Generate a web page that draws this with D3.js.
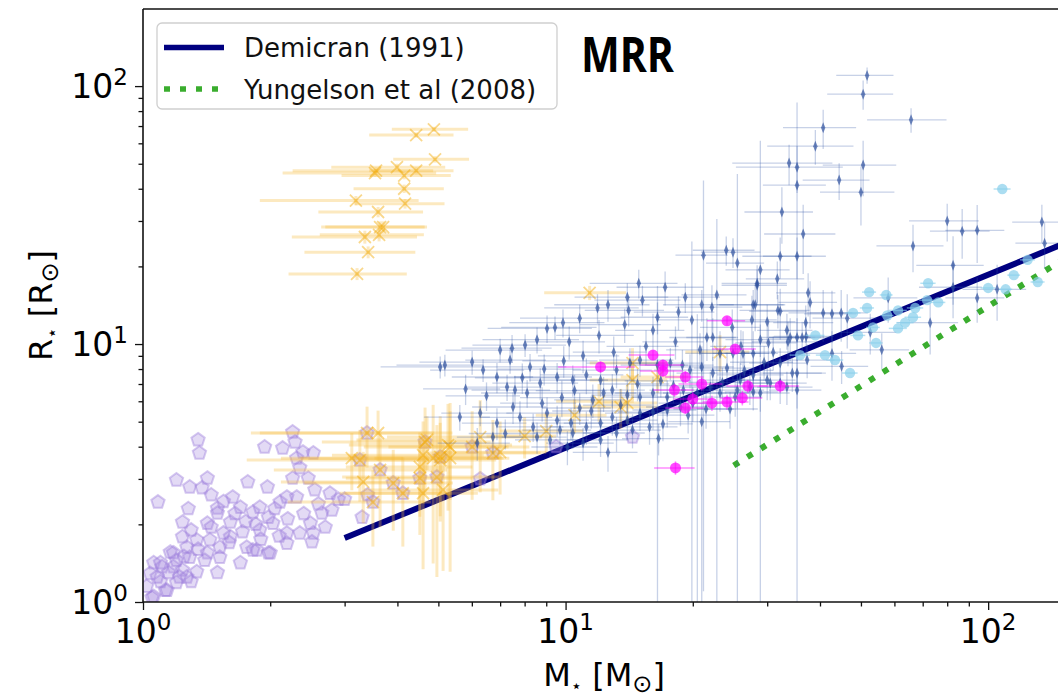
<!DOCTYPE html>
<html><head><meta charset="utf-8">
<script src="https://cdn.jsdelivr.net/npm/d3@7"></script>
<style>body{margin:0;background:#fff}svg{display:block}</style>
</head><body>
<svg id="chart" width="1058" height="700"></svg>
<script>
// ---------------- DATA ----------------
// purple pentagons: [M, R]
const purpleStars = [
[1.35,4.25],[1.36,3.78],[1.20,2.97],[1.29,2.79],[1.42,3.02],[1.085,2.44],[1.38,2.77],[1.77,2.92],
[1.94,3.99],[2.14,3.95],[2.26,4.56],[2.29,4.17],[2.31,3.61],[2.53,3.78],[2.39,3.81],[2.35,3.31],
[2.26,3.02],[2.46,3.02],[1.97,2.79],[2.55,2.72],[2.77,2.64],[1.63,2.55],[1.70,2.33],[1.50,2.31],
[1.82,2.23],[1.89,2.33],[1.98,2.13],[2.11,2.44],[2.31,2.55],[2.19,2.55],[2.65,2.21],[2.80,2.27],
[1.24,2.04],[1.42,2.02],[1.61,2.04],[1.72,1.87],[1.89,1.90],[2.03,2.02],[2.19,1.85],[2.35,1.85],
[2.49,2.02],[2.53,1.85],[2.51,1.71],[1.24,1.79],[1.34,1.74],[1.44,1.74],[1.52,1.63],[1.61,1.79],
[1.76,1.63],[1.86,1.59],[1.98,1.55],[1.27,1.63],[1.16,1.56],[1.29,1.49],[1.18,1.37],[1.24,1.33],
[1.34,1.31],[1.22,1.25],[1.06,1.42],[1.11,1.37],[1.04,1.29],[1.13,1.11],[1.06,1.05],[1.20,1.19],
[1.52,1.49],[1.70,1.42],[1.42,1.55],[1.50,2.21],[3.30,2.13],[1.10,1.42],[1.18,1.55],[1.27,1.25],
[1.14,1.11],[1.05,1.04],[1.82,1.59],[2.00,1.55],[2.19,1.69],[1.30,1.90],[1.45,1.95],[1.55,1.85],
[1.25,1.50],[1.40,1.45],[1.15,1.30],[1.20,1.45],[1.35,1.60],[1.60,1.70],[1.65,2.20],[1.75,2.05],
[1.85,2.00],[2.05,2.30],[2.20,2.10],[2.40,2.20],[1.10,1.20],[1.30,1.20],[1.50,1.30],[1.90,1.75],
[2.10,1.80],[2.60,2.40],[2.90,2.50],[2.70,1.95],[1.02,1.15],[1.08,1.25],[1.28,2.30],[1.45,2.60],
[1.55,2.45],[3.00,2.50],[3.40,2.60],
[3.39,4.52],[3.26,3.55],[3.64,3.25],[3.91,2.89],[4.52,3.02],[4.65,4.17],[5.05,3.65],[4.96,3.05],
[6.01,3.99],[6.73,3.78],[3.50,2.44],[4.12,2.64],[6.28,3.00],[14.4,4.36],[9.5,4.0]
];
// orange crosses: [M, R, dM, dR]
const orangeStars = [
[4.88,68,1.0,1.5],[4.43,64.6,1.0,1.5],[4.91,52,1.0,1.5],[3.56,47,1.3,1.5],[3.99,48.5,1.2,1.5],
[4.43,47,1.0,1.5],[4.15,45,1.2,1.5],[3.54,46,1.4,1.5],[4.15,40,1.0,1.5],[3.19,36,1.3,1.5],
[4.17,35,1.0,1.5],[3.60,32.5,1.0,1.5],[3.64,28.4,1.0,1.5],[3.70,28.4,1.0,1.5],[3.35,26,1.1,1.5],
[3.62,26.5,1.0,1.5],[3.41,22.7,1.0,1.2],[3.21,18.7,1.0,1.0],
[3.39,4.52,1.5,1.2],[3.60,4.52,1.8,1.0],[3.12,3.61,1.0,0.9],[3.26,3.55,1.5,1.1],[3.64,3.25,1.6,1.3],
[3.32,2.92,1.2,0.9],[3.91,2.89,1.5,1.0],[3.50,2.44,1.3,0.8],[4.12,2.64,1.2,1.0],[4.65,4.17,2.0,1.5],
[4.60,3.71,1.8,1.3],[4.86,3.61,2.5,2.2],[5.05,3.65,2.0,1.6],[5.27,4.06,2.2,1.8],[5.33,3.61,1.8,2.3],
[4.52,3.02,1.5,1.2],[4.96,3.05,2.0,1.8],[4.60,2.64,1.6,1.3],[5.13,2.72,1.8,1.4],[6.01,3.99,2.2,1.5],
[6.28,4.36,2.5,1.7],[6.73,3.78,2.0,1.3],[11.4,15.8,2.5,1.0],[7.0,3.81,2.0,1.2],[4.70,4.25,1.5,1.0],
[5.33,3.99,2.0,1.5],[13.5,5.70,3.0,1.0],[14.4,7.25,3.0,1.2],[16.5,7.45,3.0,1.0],[23.2,9.31,4.0,1.5],
[14.0,5.91,2.5,1.0],[14.4,8.44,3.0,1.2],[4.52,3.34,1.5,1.2],[5.05,3.55,1.8,1.4],
[9.0,4.6,2.0,0.8],[10.5,5.3,2.0,0.8],[12.0,6.0,2.5,1.0],[8.0,4.4,1.5,0.8]
];
// blue thin diamonds: [M, R, dM, dR]
const blueStars = [
[51.7,110,8,8],[50.6,93,9,12],[65.7,74,14,8],[40.7,69,8,12],[39.0,58.5,9,9],[33.8,50.3,9,9],
[35.3,48.5,10,10],[50.6,49.4,10,12],[44.4,43.2,8,7],[35.3,41.3,6,45],[50.0,38.8,10,10],[32.5,32.5,6,8],
[36.5,26.7,7,8],[80.0,30.0,15,5],[86.8,27.4,14,6],[94.2,27.6,15,7],[134,29.7,20,5],[136,24.6,20,5],
[66.4,24.0,12,5],[82.6,20.2,15,6],[21.2,22.1,3,21],[24.0,23.1,4,3],[24.9,22.7,4,3],[25.5,20.6,4,25],
[32.2,21.9,6,4],[35.3,21.9,6,4],[28.9,19.4,5,42],[28.4,17.2,5,3],[31.7,17.9,5,3],[22.8,15.5,4,15],
[22.2,13.9,4,3],[28.1,14.2,5,3],[32.2,13.4,5,3],[37.5,15.8,6,3],[37.9,14.5,6,3],[40.7,13.2,7,3],
[42.7,13.1,6,3],[44.9,13.2,7,3],[27.6,12.4,4,3],[24.8,11.6,4,2],[21.6,10.6,4,2],[22.3,10.6,3,2],
[30.2,10.1,5,2],[34.0,10.6,5,2],[35.3,10.6,5,2],[37.1,10.7,6,2],[37.0,12.1,6,2],[46.4,12.6,8,3],
[58.0,15.1,10,3],[72.9,12.1,12,3],[94.2,15.1,15,3],[105,16.3,18,4],[82.6,16.6,14,4],[52.6,11.1,8,2],
[42.7,9.2,6,2],[27.8,9.2,4,2],[24.9,9.2,4,2],[23.2,9.2,4,2],[26.3,9.2,4,2],
[5.05,8.15,1.4,0.8],[5.18,8.29,1.2,0.8],[6.01,8.51,1.5,0.9],[6.38,7.93,1.6,0.8],[7.0,9.48,1.8,1.0],
[7.47,9.64,1.8,1.2],[8.02,9.91,2.0,1.0],[8.56,10.4,2.2,1.2],[9.04,11.5,2.5,1.4],[9.44,11.6,2.4,1.2],
[9.86,12.1,2.5,1.5],[10.8,12.6,3.0,1.6],[11.9,13.8,3.0,1.8],[12.6,14.2,3.2,2.0],[14.0,15.2,3.5,2.0],
[14.9,17.2,3.5,2.2],[15.2,14.8,3.5,2.0],[17.2,16.6,4.0,2.5],[14.1,13.5,3.0,1.8],[16.5,12.7,3.0,1.8],
[18.5,13.3,4.0,2.0],[19.2,15.2,4.0,2.0],[21.0,14.2,4.0,2.0],[28.4,16.9,5,2.5],[27.8,14.2,5,2],
[31.8,13.5,6,2],[19.9,12.4,3.5,12.6],[30.0,12.2,5,2],[33.6,10.2,6,2],
[7.39,8.67,1.6,1.0],[8.24,8.15,1.8,1.0],[6.88,7.45,1.5,1.0],[7.27,6.81,1.5,0.8],[7.59,6.63,1.6,0.9],
[8.11,6.46,1.8,0.8],[8.71,7.06,2.0,1.0],[9.55,7.45,2.0,1.0],[10.4,7.25,2.2,1.0],[11.2,7.59,2.5,1.2],
[12.1,7.25,2.5,1.0],[13.2,7.93,2.8,1.2],[14.2,8.44,3.0,1.2],[15.0,8.67,3.0,1.2],[16.5,8.29,3.0,8.5],
[17.7,8.44,3.5,1.2],[18.9,8.29,3.5,1.2],[19.7,7.93,3.5,1.2],[21.0,8.15,4.0,1.2],[22.3,7.72,4.0,1.2],
[24.1,8.07,4.0,1.2],[25.9,7.25,4.5,1.2],[27.8,7.59,5,1.2],[30.0,7.25,5,1.2],[32.2,7.06,5,1.2],
[34.4,7.72,6,1.2],[5.62,5.21,1.0,0.6],[6.28,5.40,1.2,0.6],[6.88,4.94,1.2,0.7],[7.51,5.70,1.5,0.8],
[8.38,4.77,1.5,0.6],[9.04,5.40,1.8,0.8],[9.55,5.07,1.8,0.7],[10.3,4.94,2.0,0.7],[10.8,5.65,2.0,0.8],
[11.6,6.07,2.2,0.9],[12.3,6.46,2.4,1.0],[12.9,6.63,2.5,1.0],[14.0,6.34,2.5,0.9],[15.0,6.23,2.8,0.9],
[16.1,6.46,3.0,1.0],[17.4,6.23,3.0,1.0],[19.0,6.63,3.2,1.0],[20.5,6.46,3.5,6.6],[22.0,6.81,3.5,1.0],
[23.2,6.46,4,1.0],[25.5,6.63,4,1.0],[27.3,6.81,4,1.0],[28.9,6.46,5,1.0],[30.5,7.06,5,1.0],
[33.4,6.81,5,1.0],[35.3,6.63,5,1.0],[9.70,4.64,1.8,0.6],[10.4,4.52,2.0,0.6],[11.2,4.77,2.0,0.7],
[12.1,4.94,2.2,0.7],[12.9,5.21,2.4,0.8],[14.0,5.07,2.5,0.8],[15.0,5.40,2.6,0.8],[16.1,5.45,2.8,0.8],
[17.4,5.55,3.0,0.8],[18.7,5.70,3.2,0.9],[20.0,5.90,3.4,0.9],[8.56,4.36,1.5,0.6],[9.19,4.25,1.6,0.6],
[10.1,3.99,1.8,0.6],[11.0,4.13,2.0,0.6],[12.1,4.25,2.0,0.6],[13.2,4.52,2.2,0.7],[14.4,4.64,2.4,0.7],
[15.8,4.77,2.6,0.7],[6.73,4.36,1.2,0.6],[6.18,4.13,1.2,0.6],
[16.1,11.3,3,1.8],[28.9,10.4,5,1.5],[33.4,11.3,5,1.8],[36.3,10.6,6,1.6],[32.2,8.44,5,1.2],
[35.3,7.72,6,1.2],[37.3,8.67,6,1.3],[25.2,6.23,4,1.0],[27.8,6.52,4,1.0],[45,8.2,7,1.2],[56,9.5,9,1.5],
[7.8,5.2,1.5,0.8],[8.8,5.9,1.8,0.9],[9.8,6.2,2,1],[10.5,6.6,2,1],[11.5,5.5,2.2,0.8],[13.5,5.8,2.5,0.9],
[14.8,7.0,2.8,1],[16.8,7.2,3,1],[18.0,6.9,3,1],[19.5,5.3,3,0.8],[21.5,5.6,3.5,0.9],[23.5,7.1,4,1],
[26.5,7.9,4.5,1.2],[29.5,8.5,5,1.3],[31,9.3,5,1.4],[26,9.8,4,1.5],[20.8,9.5,3.5,1.5],[18.2,10.2,3,1.5],
[15.5,9.8,3,1.5],[13.0,9.3,2.6,1.4],[11.0,9.0,2.4,1.3],[9.9,8.6,2,1.2],[8.9,8.0,2,1.1],[7.9,7.4,1.8,1],
[12.0,10.8,2.5,1.6],[13.8,11.9,3,1.8],[10.2,10.2,2.2,1.5],[6.5,6.3,1.3,0.8],[5.8,6.7,1.2,0.9],
[7.2,4.5,1.3,0.6],[24.5,5.6,4,0.9],[17.0,4.9,3,0.7],[12.6,3.8,2.2,0.6],[16.6,4.3,3,0.6],[21,5.0,3.5,4.8]
];
// magenta circles: [M, R, dM, dR]
const magentaStars = [
[24.1,12.3,2.5,0.5],[25.2,9.56,3,0.4],[12.1,8.15,2.5,0.4],[16.1,9.06,2,0.4],[17.0,8.29,2,0.4],
[17.0,7.86,2,0.4],[19.2,7.45,2,0.4],[21.0,7.0,2.5,0.4],[18.1,6.63,2,0.4],[20.0,6.12,2,0.4],
[19.2,5.65,2,0.3],[22.2,5.90,2.5,0.4],[24.1,5.96,3,0.4],[26.2,6.18,3,0.4],[27.0,6.87,3,0.4],
[32.2,6.87,3.5,0.4],[18.2,3.31,2,0.2]
];
// light-blue circles: [M, R, dM]
const skyStars = [
[108,39.9,5],[52.3,15.9,2],[57.4,15.5,2],[72.1,17.2,3],[115,18.5,4],[131,17.4,5],[124,21.2,5],
[100,16.5,4],[110,16.3,4],[76.2,14.5,3],[71.7,14.8,3],[67.2,13.8,3],[66.4,12.7,3],[61.2,13.5,3],
[61.2,11.5,3],[63.6,12.1,3],[57.7,12.9,2],[53.4,11.6,2],[51.7,13.8,2],[47.9,13.2,2],[49.2,10.8,2],
[54.3,10.1,2],[39.0,10.8,2],[35.9,9.06,2],[41.1,9.06,2],[43.4,8.67,2],[47.1,7.72,2]
];
// model relations (end points)
const demircanM = [3, 152];
const demircanR = [1.77, 24.6];
const yungelsonM = [25, 152];
const yungelsonR = [3.38, 21.5];
const legendLabels = ["Demicran (1991)", "Yungelson et al (2008)"];
const xTickExps = [0, 1, 2];
const yTickExps = [0, 1, 2];

// ---------------- CHART ----------------
const svg = d3.select("#chart");
const L = 143, R = 1065, T = 9, B = 602;
const x = d3.scaleLog().domain([1, 152]).range([L, R]);
const y = d3.scaleLog().domain([1, 199]).range([B, T]);
const xmin = x.domain()[0], ymin = y.domain()[0];

svg.append("defs").append("clipPath").attr("id","plotclip")
  .append("rect").attr("x",L).attr("y",T).attr("width",R-L).attr("height",B-T);
const plot = svg.append("g").attr("clip-path","url(#plotclip)");

const lo = (v, d, m) => (v - d <= m ? m : v - d);

// model lines (drawn below the points)
const line = d3.line().x(d => x(d[0])).y(d => y(d[1]));
plot.append("path").datum(demircanM.map((m,i)=>[m, demircanR[i]]))
  .attr("d", line).attr("fill","none").attr("stroke","#000080").attr("stroke-width",6);
plot.append("path").datum(yungelsonM.map((m,i)=>[m, yungelsonR[i]]))
  .attr("d", line).attr("fill","none").attr("stroke","#3aad2e").attr("stroke-width",6)
  .attr("stroke-dasharray","6,10");

// purple pentagons
const pent = (r) => {
  let p = [];
  for (let k = 0; k < 5; k++) {
    const a = -Math.PI/2 + k*2*Math.PI/5;
    p.push([r*Math.cos(a), r*Math.sin(a)]);
  }
  return "M" + p.map(q => q[0].toFixed(2)+","+q[1].toFixed(2)).join("L") + "Z";
};
plot.append("g").selectAll("path").data(purpleStars).join("path")
  .attr("d", pent(7))
  .attr("transform", d => `translate(${x(d[0])},${y(d[1])})`)
  .attr("fill","#a78be0").attr("fill-opacity",0.32)
  .attr("stroke","#9a7ddc").attr("stroke-opacity",0.42).attr("stroke-width",2);

// orange error bars + crosses
const og = plot.append("g");
og.selectAll("line.h").data(orangeStars).join("line")
  .attr("x1", d => x(lo(d[0], d[2], xmin))).attr("x2", d => x(d[0]+d[2]))
  .attr("y1", d => y(d[1])).attr("y2", d => y(d[1]))
  .attr("stroke","#f6bc3c").attr("stroke-opacity",0.32).attr("stroke-width",3);
og.selectAll("line.v").data(orangeStars).join("line")
  .attr("x1", d => x(d[0])).attr("x2", d => x(d[0]))
  .attr("y1", d => y(lo(d[1], d[3], ymin))).attr("y2", d => y(d[1]+d[3]))
  .attr("stroke","#f6bc3c").attr("stroke-opacity",0.32).attr("stroke-width",3);
og.selectAll("path").data(orangeStars).join("path")
  .attr("d","M-6,-6L6,6M-6,6L6,-6")
  .attr("transform", d => `translate(${x(d[0])},${y(d[1])})`)
  .attr("stroke","#f2a900").attr("stroke-opacity",0.45).attr("stroke-width",1.8).attr("fill","none");

// blue error bars + thin diamonds
const bg = plot.append("g");
bg.selectAll("line.h").data(blueStars).join("line")
  .attr("x1", d => x(lo(d[0], d[2], xmin))).attr("x2", d => x(d[0]+d[2]))
  .attr("y1", d => y(d[1])).attr("y2", d => y(d[1]))
  .attr("stroke","#3558a8").attr("stroke-opacity",0.28).attr("stroke-width",1.3);
bg.selectAll("line.v").data(blueStars).join("line")
  .attr("x1", d => x(d[0])).attr("x2", d => x(d[0]))
  .attr("y1", d => y(lo(d[1], d[3], ymin))).attr("y2", d => y(d[1]+d[3]))
  .attr("stroke","#3558a8").attr("stroke-opacity",0.28).attr("stroke-width",1.3);
bg.selectAll("path").data(blueStars).join("path")
  .attr("d","M0,-5.5L2.2,0L0,5.5L-2.2,0Z")
  .attr("transform", d => `translate(${x(d[0])},${y(d[1])})`)
  .attr("fill","#264a9a").attr("fill-opacity",0.65);

// magenta
const mg = plot.append("g");
mg.selectAll("line.h").data(magentaStars).join("line")
  .attr("x1", d => x(lo(d[0], d[2], xmin))).attr("x2", d => x(d[0]+d[2]))
  .attr("y1", d => y(d[1])).attr("y2", d => y(d[1]))
  .attr("stroke","#ff00ff").attr("stroke-opacity",0.45).attr("stroke-width",1.5);
mg.selectAll("line.v").data(magentaStars).join("line")
  .attr("x1", d => x(d[0])).attr("x2", d => x(d[0]))
  .attr("y1", d => y(lo(d[1], d[3], ymin))).attr("y2", d => y(d[1]+d[3]))
  .attr("stroke","#ff00ff").attr("stroke-opacity",0.45).attr("stroke-width",1.5);
mg.selectAll("circle").data(magentaStars).join("circle")
  .attr("cx", d => x(d[0])).attr("cy", d => y(d[1])).attr("r",5.5)
  .attr("fill","#ff00ff").attr("fill-opacity",0.7);

// light blue
const sg = plot.append("g");
sg.selectAll("line").data(skyStars).join("line")
  .attr("x1", d => x(d[0]-d[2])).attr("x2", d => x(d[0]+d[2]))
  .attr("y1", d => y(d[1])).attr("y2", d => y(d[1]))
  .attr("stroke","#87ceeb").attr("stroke-opacity",0.6).attr("stroke-width",1.5);
sg.selectAll("circle").data(skyStars).join("circle")
  .attr("cx", d => x(d[0])).attr("cy", d => y(d[1])).attr("r",5.2)
  .attr("fill","#87ceeb").attr("fill-opacity",0.7);

// ---------------- AXES ----------------
const minorX = [], minorY = [];
[1,10,100].forEach(b => { for (let k=2;k<=9;k++){ const v=b*k; if (v<x.domain()[1]) minorX.push(v); if (v<y.domain()[1]) minorY.push(v);} });
const majorVals = e => e.map(p => Math.pow(10,p));

const axB = svg.append("g").attr("transform",`translate(0,${B})`);
axB.call(d3.axisBottom(x).tickValues(majorVals(xTickExps)).tickSize(8).tickFormat(""));
axB.call(g => g.append("g").call(d3.axisBottom(x).tickValues(minorX).tickSize(4.5).tickFormat("")));
const axL = svg.append("g").attr("transform",`translate(${L},0)`);
axL.call(d3.axisLeft(y).tickValues(majorVals(yTickExps)).tickSize(8).tickFormat(""));
axL.call(g => g.append("g").call(d3.axisLeft(y).tickValues(minorY).tickSize(4.5).tickFormat("")));
svg.selectAll(".domain").remove();
svg.selectAll(".tick line").attr("stroke","#111").attr("stroke-width",1.3);

// spines
svg.append("line").attr("x1",L).attr("x2",L).attr("y1",T).attr("y2",B).attr("stroke","#111").attr("stroke-width",1.6);
svg.append("line").attr("x1",L).attr("x2",R).attr("y1",B).attr("y2",B).attr("stroke","#111").attr("stroke-width",1.6);
svg.append("line").attr("x1",L).attr("x2",R).attr("y1",T).attr("y2",T).attr("stroke","#111").attr("stroke-width",1.6);

const font = "DejaVu Sans";
const pow10Label = (sel, e) => {
  sel.append("tspan").text("10");
  sel.append("tspan").attr("font-size",23).attr("dy",-13).text(String(e));
};
xTickExps.forEach(e => {
  const t = svg.append("text").attr("x", x(Math.pow(10,e))).attr("y", 643)
    .attr("text-anchor","middle").attr("font-family",font).attr("font-size",33).attr("fill","#000");
  pow10Label(t, e);
});
yTickExps.forEach(e => {
  const t = svg.append("text").attr("x", 128).attr("y", y(Math.pow(10,e)) + 12)
    .attr("text-anchor","end").attr("font-family",font).attr("font-size",33).attr("fill","#000");
  pow10Label(t, e);
});

// axis titles
const axisTitle = (sel, sym) => {
  sel.append("tspan").text(sym);
  sel.append("tspan").attr("font-size",18).attr("dy",6).text("\u22C6");
  sel.append("tspan").attr("dy",-6).text(" [" + sym);
  sel.append("tspan").attr("font-size",24).attr("dy",6).text("\u2299");
  sel.append("tspan").attr("dy",-6).text("]");
};
const xt = svg.append("text").attr("x",(L+R)/2).attr("y",686).attr("text-anchor","middle")
  .attr("font-family",font).attr("font-size",32).attr("fill","#000");
axisTitle(xt, "M");
const yt = svg.append("text").attr("transform",`translate(52,${(T+B)/2}) rotate(-90)`).attr("text-anchor","middle")
  .attr("font-family",font).attr("font-size",32).attr("fill","#000");
axisTitle(yt, "R");

// legend
const lg = svg.append("g");
lg.append("rect").attr("x",157).attr("y",23).attr("width",400).attr("height",86).attr("rx",5)
  .attr("fill","#fff").attr("fill-opacity",0.85).attr("stroke","#cfcfcf").attr("stroke-width",1.3);
lg.append("line").attr("x1",164).attr("x2",224).attr("y1",47.5).attr("y2",47.5)
  .attr("stroke","#000080").attr("stroke-width",5.5);
lg.append("line").attr("x1",164).attr("x2",226).attr("y1",89).attr("y2",89)
  .attr("stroke","#3aad2e").attr("stroke-width",5.5).attr("stroke-dasharray","6,10");
legendLabels.forEach((s,i) => {
  lg.append("text").attr("x",244).attr("y",57 + i*42).attr("font-family",font).attr("font-size",26)
    .attr("fill","#111").text(s);
});

// panel tag
svg.append("text").attr("x",581).attr("y",72).attr("font-family","Open Sans").attr("font-weight",700)
  .attr("font-size",48).attr("textLength",93).attr("lengthAdjust","spacingAndGlyphs").attr("fill","#000").text("MRR");
</script>
</body></html>
